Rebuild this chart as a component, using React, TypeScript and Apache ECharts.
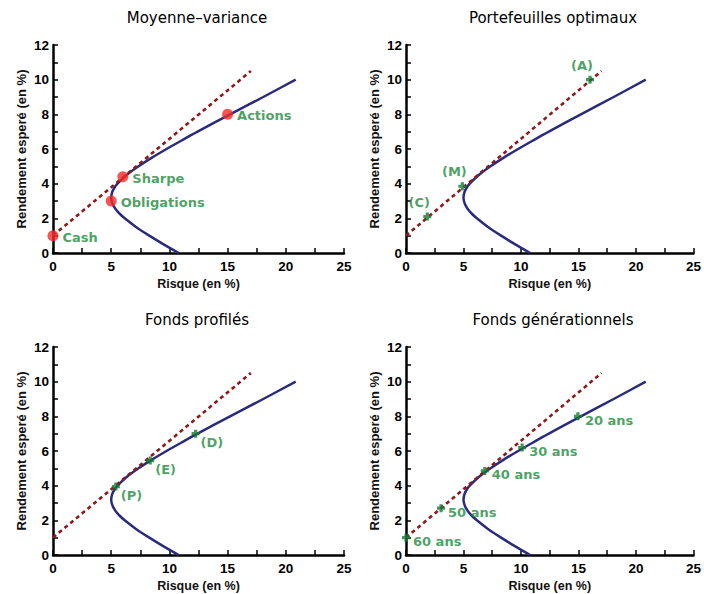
import React, { useEffect, useRef } from "react";
import * as echarts from "echarts";

// Efficient frontier (risk %, expected return %)
const frontierRisk = [10.8, 9.5, 8.27, 7.13, 6.16, 5.75, 5.42, 5.18, 5.04, 5.0, 5.08, 5.26, 5.54, 6.33, 7.35, 8.5, 9.75, 11.07, 12.42, 15.21, 18.06, 20.85];
const frontierReturn = [0, 0.5, 1, 1.5, 2, 2.25, 2.5, 2.75, 3, 3.2, 3.5, 3.75, 4, 4.5, 5, 5.5, 6, 6.5, 7, 8, 9, 10];

// Capital market line
const cmlRisk = [0, 17];
const cmlReturn = [1, 10.5];

// Moyenne-variance
const mvNames = ["Cash", "Obligations", "Sharpe", "Actions"];
const mvRisk = [0, 5, 6, 15];
const mvReturn = [1, 3, 4.4, 8];

// Portefeuilles optimaux
const optNames = ["(C)", "(M)", "(A)"];
const optRisk = [1.85, 4.9, 16];
const optReturn = [2.1, 3.85, 10];

// Fonds profilés
const profNames = ["(P)", "(E)", "(D)"];
const profRisk = [5.4, 8.35, 12.25];
const profReturn = [3.95, 5.45, 7];

// Fonds générationnels
const genNames = ["60 ans", "50 ans", "40 ans", "30 ans", "20 ans"];
const genRisk = [0, 3.05, 6.85, 10.1, 14.95];
const genReturn = [1, 2.7, 4.85, 6.2, 8];

const titles = ["Moyenne\u2013variance", "Portefeuilles optimaux", "Fonds profilés", "Fonds générationnels"];
const xTicks = { min: 0, max: 25, interval: 5 };
const yTicks = { min: 0, max: 12, interval: 2 };

const GREEN = "#1b8a3c";
const MARKER_GREEN = "#147a36";
const PLUS = "path://M3,0H7V3H10V7H7V10H3V7H0V3H3Z";

const grids = [
  { left: 53, top: 45, width: 291, height: 208 },
  { left: 406, top: 45, width: 292, height: 208 },
  { left: 53, top: 347, width: 291, height: 208 },
  { left: 406, top: 347, width: 292, height: 208 },
];

const zip = (xs: number[], ys: number[]) => xs.map((x, i) => [x, ys[i]]);
const pts = (names: string[], xs: number[], ys: number[]) =>
  names.map((n, i) => ({ name: n, value: [xs[i], ys[i]] }));

export default function App() {
  const ref = useRef<HTMLDivElement>(null);

  useEffect(() => {
    document.body.style.margin = "0";
    const chart = echarts.init(ref.current!, undefined, { renderer: "svg" });

    const axisLine = { show: true, onZero: false, lineStyle: { color: "#000", width: 2.5 } };
    const axisTick = { show: true, inside: true, length: 5, lineStyle: { color: "#000", width: 1.5 } };
    const minorTick = { show: true, splitNumber: 2, length: 5, lineStyle: { color: "#000", width: 1.5 } };
    const tickFont = { color: "#000", fontSize: 13.5, fontWeight: "bold" as const, fontFamily: "Liberation Sans" };

    const xAxis = grids.map((_, i) => ({
      type: "value",
      gridIndex: i,
      ...xTicks,
      name: "Risque (en %)",
      nameLocation: "middle",
      nameGap: 24,
      nameTextStyle: { color: "#111", fontSize: 12.5, fontWeight: "bold", fontFamily: "Liberation Sans" },
      axisLine,
      axisTick,
      minorTick,
      splitLine: { show: false },
      axisLabel: { ...tickFont, margin: 6 },
    }));

    const yAxis = grids.map((_, i) => ({
      type: "value",
      gridIndex: i,
      ...yTicks,
      name: "Rendement esperé (en %)",
      nameLocation: "middle",
      nameGap: 25,
      nameTextStyle: { color: "#111", fontSize: 13, fontWeight: "bold", fontFamily: "Liberation Sans" },
      axisLine,
      axisTick,
      minorTick,
      splitLine: { show: false },
      axisLabel: { ...tickFont, margin: 4 },
    }));

    const labelFont = { color: GREEN, fontSize: 13, fontWeight: "bold" as const, fontFamily: "DejaVu Sans" };

    const series: any[] = [];
    grids.forEach((_, i) => {
      series.push({
        type: "line",
        xAxisIndex: i,
        yAxisIndex: i,
        data: zip(frontierRisk, frontierReturn),
        smooth: 0.3,
        showSymbol: false,
        symbol: "none",
        lineStyle: { color: "#2b2b7c", width: 2.5 },
        z: 2,
      });
      series.push({
        type: "line",
        xAxisIndex: i,
        yAxisIndex: i,
        data: zip(cmlRisk, cmlReturn),
        symbol: "none",
        lineStyle: { color: "#8b1a1a", width: 2.6, type: [4, 3.5] },
        z: 3,
      });
    });

    series.push({
      type: "scatter",
      xAxisIndex: 0,
      yAxisIndex: 0,
      clip: false,
      data: pts(mvNames, mvRisk, mvReturn),
      symbol: "circle",
      symbolSize: 11,
      itemStyle: { color: "#f22a2a" },
      label: { show: true, position: "right", distance: 4, offset: [0, 1.5], formatter: "{b}", ...labelFont },
      z: 5,
    });
    series.push({
      type: "scatter",
      xAxisIndex: 1,
      yAxisIndex: 1,
      clip: false,
      data: pts(optNames, optRisk, optReturn),
      symbol: PLUS,
      symbolSize: 8,
      itemStyle: { color: MARKER_GREEN },
      label: { show: true, position: "top", distance: 4, offset: [-8, 0], formatter: "{b}", ...labelFont },
      z: 5,
    });
    series.push({
      type: "scatter",
      xAxisIndex: 2,
      yAxisIndex: 2,
      clip: false,
      data: pts(profNames, profRisk, profReturn),
      symbol: PLUS,
      symbolSize: 8,
      itemStyle: { color: MARKER_GREEN },
      label: { show: true, position: "right", distance: 1, offset: [0, 9], formatter: "{b}", ...labelFont },
      z: 5,
    });
    series.push({
      type: "scatter",
      xAxisIndex: 3,
      yAxisIndex: 3,
      clip: false,
      data: pts(genNames, genRisk, genReturn),
      symbol: PLUS,
      symbolSize: 8,
      itemStyle: { color: MARKER_GREEN },
      label: { show: true, position: "right", distance: 3, offset: [0, 4], formatter: "{b}", ...labelFont },
      z: 5,
    });

    const titlePos = [
      [197, 18],
      [553, 18],
      [197, 320],
      [553, 320],
    ];

    chart.setOption({
      animation: false,
      backgroundColor: "#fff",
      grid: grids,
      xAxis,
      yAxis,
      series,
      graphic: titles.map((t, i) => ({
        type: "text",
        x: titlePos[i][0],
        y: titlePos[i][1],
        style: {
          text: t,
          fill: "#000",
          font: "15px 'DejaVu Sans'",
          align: "center",
          verticalAlign: "middle",
        },
      })),
    });

    return () => chart.dispose();
  }, []);

  return <div ref={ref} style={{ width: 704, height: 594 }} />;
}
